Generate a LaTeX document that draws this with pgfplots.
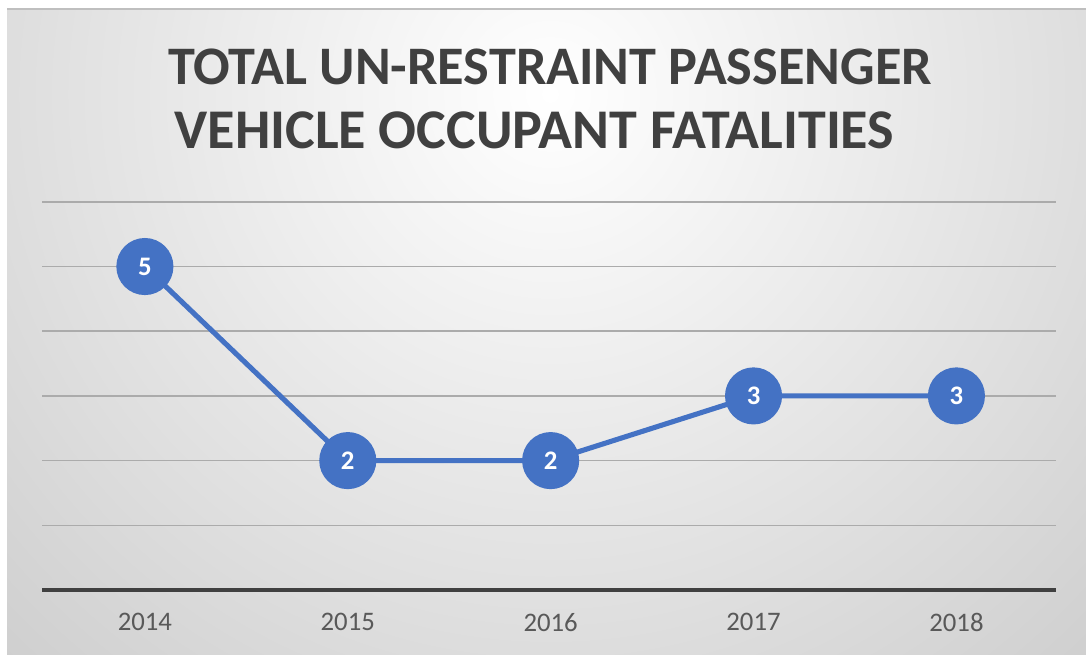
\documentclass[border=0pt]{standalone}
\usepackage{fontspec}
\setmainfont{Carlito}
\usepackage{pgfplots}
\pgfplotsset{compat=1.18}
\usepackage{xcolor}
\definecolor{xlblue}{HTML}{4472C4}
\definecolor{titlegray}{HTML}{404040}
\definecolor{tickgray}{HTML}{595959}
\definecolor{gridgray}{HTML}{ABABAB}

\begin{document}
\begin{tikzpicture}[x=0.0138cm,y=0.0138cm]
\useasboundingbox (0,0) rectangle (1086,654);
\fill[white] (0,0) rectangle (1086,654);
\begin{scope}
  \clip (7,0) rectangle (1086,645);
  \shade[inner color=white, outer color=black!24] (550,560) circle (1000);
\end{scope}
\draw[black!25, line width=0.8pt] (7,645) -- (1086,645);

\node[anchor=base, font=\bfseries\fontsize{21.3}{25}\selectfont, text=titlegray] at (550,569) {TOTAL UN-RESTRAINT PASSENGER};
\node[anchor=base, font=\bfseries\fontsize{22}{26}\selectfont, text=titlegray] at (534.5,506) {VEHICLE OCCUPANT FATALITIES};

\begin{axis}[
  at={(0.5796cm,0.8832cm)}, anchor=south west,
  scale only axis,
  width=13.993cm, height=5.354cm,
  xmin=2013.493, xmax=2018.493,
  ymin=0, ymax=6,
  clip=false,
  axis line style={draw=none},
  major tick length=0pt,
  xtick={2014,2015,2016,2017,2018},
  xticklabels={2014,2015,2016,2017,2018},
  xticklabel style={anchor=center, yshift=-12.6pt, text=tickgray, font=\fontsize{10.5}{12}\selectfont},
  ytick={1,2,3,4,5,6},
  yticklabels={},
  ymajorgrids=true,
  grid style={gridgray, line width=0.6pt},
  extra y ticks={0},
  extra y tick labels={},
  extra y tick style={grid style={titlegray, line width=1.2pt}},
  /pgf/number format/assume math mode=true,
]
\addplot[
  color=xlblue, line width=2pt,
  mark=*, mark size=10.2pt, mark options={fill=xlblue, draw=xlblue},
  nodes near coords,
  every node near coord/.style={anchor=center, text=white, font=\bfseries\fontsize{10.5}{12}\selectfont},
] coordinates {(2014,5) (2015,2) (2016,2) (2017,3) (2018,3)};
\end{axis}
\end{tikzpicture}
\end{document}
